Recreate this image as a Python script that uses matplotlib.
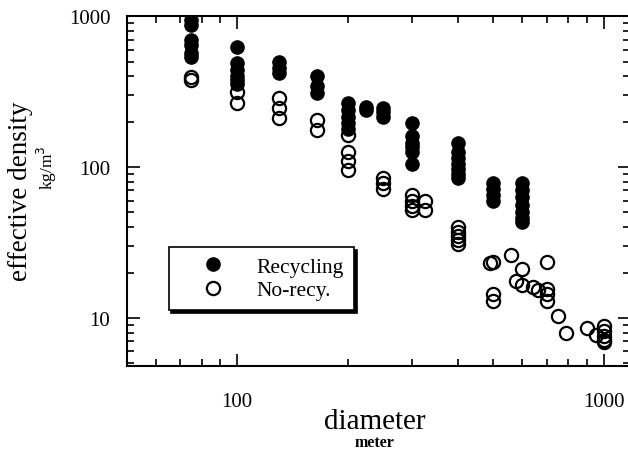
import matplotlib
matplotlib.use("Agg")
import matplotlib.pyplot as plt
import numpy as np

# recycling (filled) diameters and densities
rec_d = [75, 75, 75, 75, 75, 75,
         100, 100, 100, 100, 100, 100,
         130, 130, 130,
         165, 165, 165,
         200, 200, 200, 200, 200,
         225, 225,
         250, 250, 250,
         300, 300, 300, 300, 300, 300,
         400, 400, 400, 400, 400, 400, 400,
         500, 500, 500, 500,
         600, 600, 600, 600, 600, 600, 600]
rec_rho = [950, 880, 690, 640, 570, 540,
           620, 490, 440, 400, 375, 355,
           500, 450, 420,
           400, 345, 310,
           265, 240, 215, 195, 180,
           250, 240,
           245, 230, 215,
           195, 160, 145, 135, 125, 105,
           145, 125, 115, 105, 97, 90, 85,
           78, 72, 65, 60,
           78, 70, 63, 56, 50, 46, 43]

# no recycling (open) diameters and densities
norec_d = [75, 75,
           100, 100,
           130, 130, 130,
           165, 165,
           200, 200, 200, 200,
           250, 250, 250,
           300, 300, 300, 300,
           325, 325,
           400, 400, 400, 400, 400,
           490, 500, 500, 500,
           560, 575, 600, 600, 640, 660,
           700, 700, 700, 700,
           750, 790, 900, 950,
           1000, 1000, 1000, 1000, 1000]
norec_rho = [395, 380,
             315, 265,
             285, 245, 210,
             205, 175,
             162, 125, 110, 95,
             84, 78, 72,
             65, 60, 55, 52,
             60, 52,
             40, 37, 35, 33, 31,
             23, 23.5, 14.5, 13,
             26, 17.5, 21, 16.5, 16, 15.3,
             23.5, 15.5, 14.5, 13,
             10.3, 7.9, 8.6, 7.7,
             8.8, 8.2, 7.6, 7.1, 6.9]

plt.rcParams['font.family'] = ['Liberation Serif', 'DejaVu Serif']

fig = plt.figure(figsize=(6.28, 4.52), dpi=100)
ax = fig.add_axes([0.202, 0.188, 0.801, 0.774])

ax.plot(rec_d, rec_rho, 'o', color='black', markersize=9.5, label='Recycling')
ax.plot(norec_d, norec_rho, 'o', markerfacecolor='none', markeredgecolor='black',
        markeredgewidth=1.6, markersize=9.5, label='No-recy.')

ax.set_xscale('log')
ax.set_yscale('log')
ax.set_xlim(50, 1178)
ax.set_ylim(4.8, 1000)

ax.set_xticks([100, 1000])
ax.set_xticklabels(['100', '1000'])
ax.set_yticks([10, 100, 1000])
ax.set_yticklabels(['10', '100', '1000'])
ax.tick_params(which='both', direction='in', top=True, right=True, width=1.2)
ax.tick_params(which='major', length=9, labelsize=15)
ax.tick_params(axis='x', which='major', pad=19)
ax.tick_params(axis='y', which='major', pad=12)
ax.tick_params(which='minor', length=5, labelleft=False, labelbottom=False)
for s in ax.spines.values():
    s.set_linewidth(1.5)

fig.text(0.032, 0.577, 'effective density', rotation=90, fontsize=19.5,
         ha='center', va='center')
fig.text(0.075, 0.628, 'kg/m$^3$', rotation=90, fontsize=12.5,
         ha='center', va='center')
fig.text(0.597, 0.066, 'diameter', fontsize=21, ha='center', va='center')
fig.text(0.597, 0.012, 'meter', fontsize=11.5, ha='center', va='baseline',
         fontweight='bold')

leg = ax.legend(loc='upper left', bbox_to_anchor=(0.083, 0.34), fontsize=15.5,
                frameon=True, fancybox=False,
                shadow={'color': 'black', 'alpha': 1.0},
                edgecolor='black', handlelength=3.2, handletextpad=0.45,
                borderpad=0.45, labelspacing=0.16, borderaxespad=0)
leg.get_frame().set_linewidth(1.2)

fig.savefig('out.png', dpi=100)
